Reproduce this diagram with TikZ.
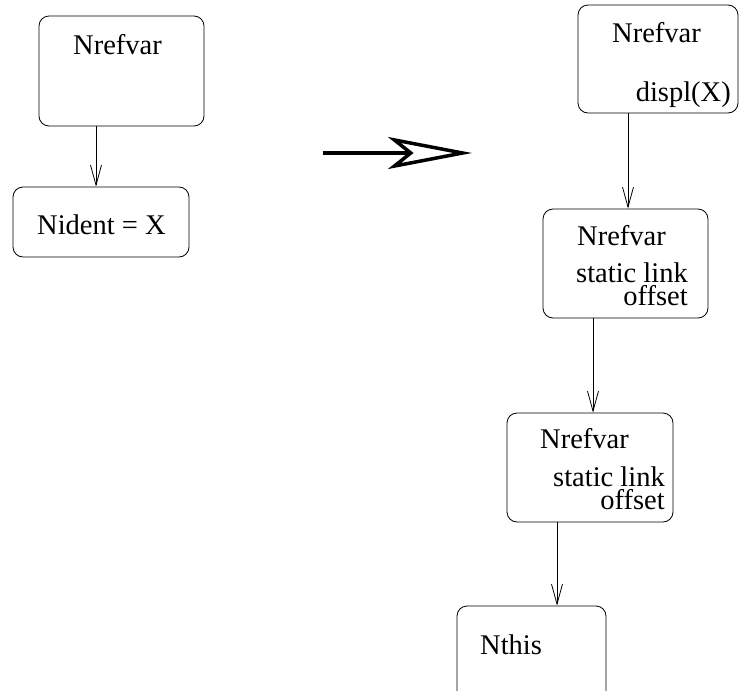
\documentclass[tikz,border=0pt]{standalone}
\usepackage{fontspec}
\setmainfont{Liberation Serif}
\usetikzlibrary{arrows.meta, positioning}

\begin{document}
\begin{tikzpicture}[
    x=1pt, y=-1pt,
    box/.style={rectangle, draw, rounded corners=10pt, line width=0.8pt, inner sep=0pt},
    lbl/.style={inner sep=0pt, font=\fontsize{28.5}{23}\selectfont},
    line/.style={-{Straight Barb[length=20pt, width=11pt]}, line width=0.8pt},
    bigarrow/.style={-{Stealth[open, length=84pt, width=32pt, inset=20pt]}, line width=3.5pt}
  ]
  \useasboundingbox (0,0) rectangle (740,691);
  % before
  \node [box, minimum width=165pt, minimum height=110pt] (refA) at (121.5,71) {};
  \node [box, minimum width=176pt, minimum height=70pt] (ident) at (101,222) {};
  \node [lbl, anchor=base west] (refAname) at (73,54) {Nrefvar};
  \node [lbl, anchor=base west] (identname) at (37,234) {Nident = X};
  \draw[line] (refA.south -| 96,0) -- (ident.north -| 96,0);
  % transformation
  \coordinate (bigS) at (323,153);
  \coordinate (bigE) at (472,153);
  \draw[bigarrow] (bigS) -- (bigE);
  % after
  \node [box, minimum width=160pt, minimum height=108pt] (refC) at (658,59) {};
  \node [box, minimum width=165pt, minimum height=109pt] (refD) at (625.5,263.5) {};
  \node [box, minimum width=166pt, minimum height=109pt] (refE) at (590,467.5) {};
  \node [box, minimum width=149pt, minimum height=108pt] (this) at (531.5,660) {};
  \node [lbl, anchor=base west] (refCname) at (612,42) {Nrefvar};
  \node [lbl, anchor=base east] (refCdispl) at (731,101) {displ(X)};
  \node [lbl, anchor=base west] (refDname) at (577,245) {Nrefvar};
  \node [lbl, anchor=base east, align=right] (refDlink) at (688,305) {static link\\offset};
  \node [lbl, anchor=base west] (refEname) at (540,448) {Nrefvar};
  \node [lbl, anchor=base east, align=right] (refElink) at (665,509) {static link\\offset};
  \node [lbl, anchor=base west] (thisname) at (480,654) {Nthis};
  \draw[line] (refC.south -| 628,0) -- (refD.north -| 628,0);
  \draw[line] (refD.south -| 593,0) -- (refE.north -| 593,0);
  \draw[line] (refE.south -| 557,0) -- (this.north -| 557,0);
\end{tikzpicture}
\end{document}
